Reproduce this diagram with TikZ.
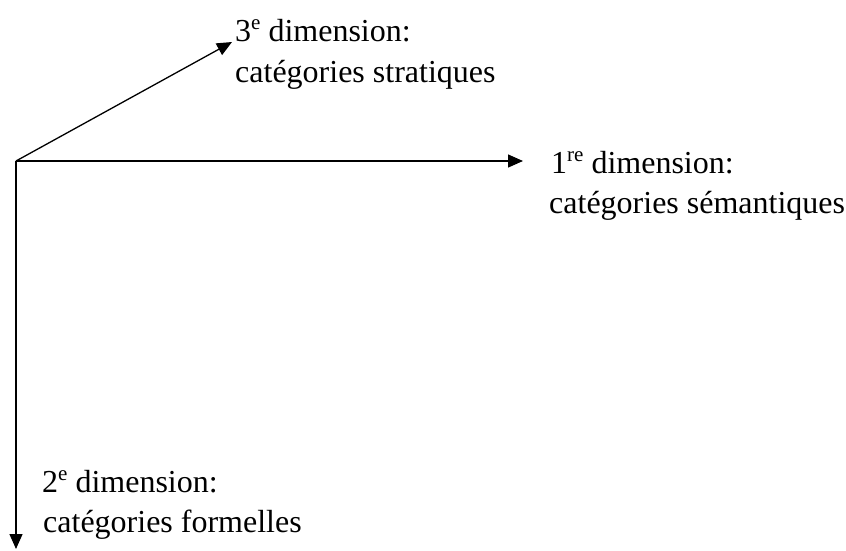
\documentclass[tikz,border=0pt]{standalone}
\usepackage{fontspec}
\setmainfont{Liberation Serif}
\usetikzlibrary{arrows.meta}
\newcommand{\supr}[1]{\raisebox{12pt}{\fontsize{21}{21}\selectfont #1}}
\tikzset{
  axis/.style={line width=1.3pt,-{Triangle[length=15pt,width=13pt]}},
  lab/.style={anchor=base west,inner sep=0pt,font=\rmfamily\fontsize{32}{40}\selectfont}
}
\begin{document}
\begin{tikzpicture}[x=1pt,y=-1pt]
		\useasboundingbox (0,0) rectangle (846,550);
		\coordinate (O) at (16,161);
		\coordinate (sem) at (523,161);
		\coordinate (strat) at (232,42);
		\coordinate (form) at (16,549);
		\draw[axis](O)--(sem);
		\draw[axis](O)--(strat);
		\draw[axis](O)--(form);
		\node[lab](semA) at (551,173){1\supr{re} dimension:};
		\node[lab](semB) at (549,213){catégories sémantiques};
		\node[lab](stratA) at (235,41){3\supr{e} dimension:};
		\node[lab](stratB) at (235,82){catégories stratiques};
		\node[lab](formA) at (42,492){2\supr{e} dimension:};
		\node[lab](formB) at (43,532){catégories formelles};
	    \end{tikzpicture}
\end{document}
